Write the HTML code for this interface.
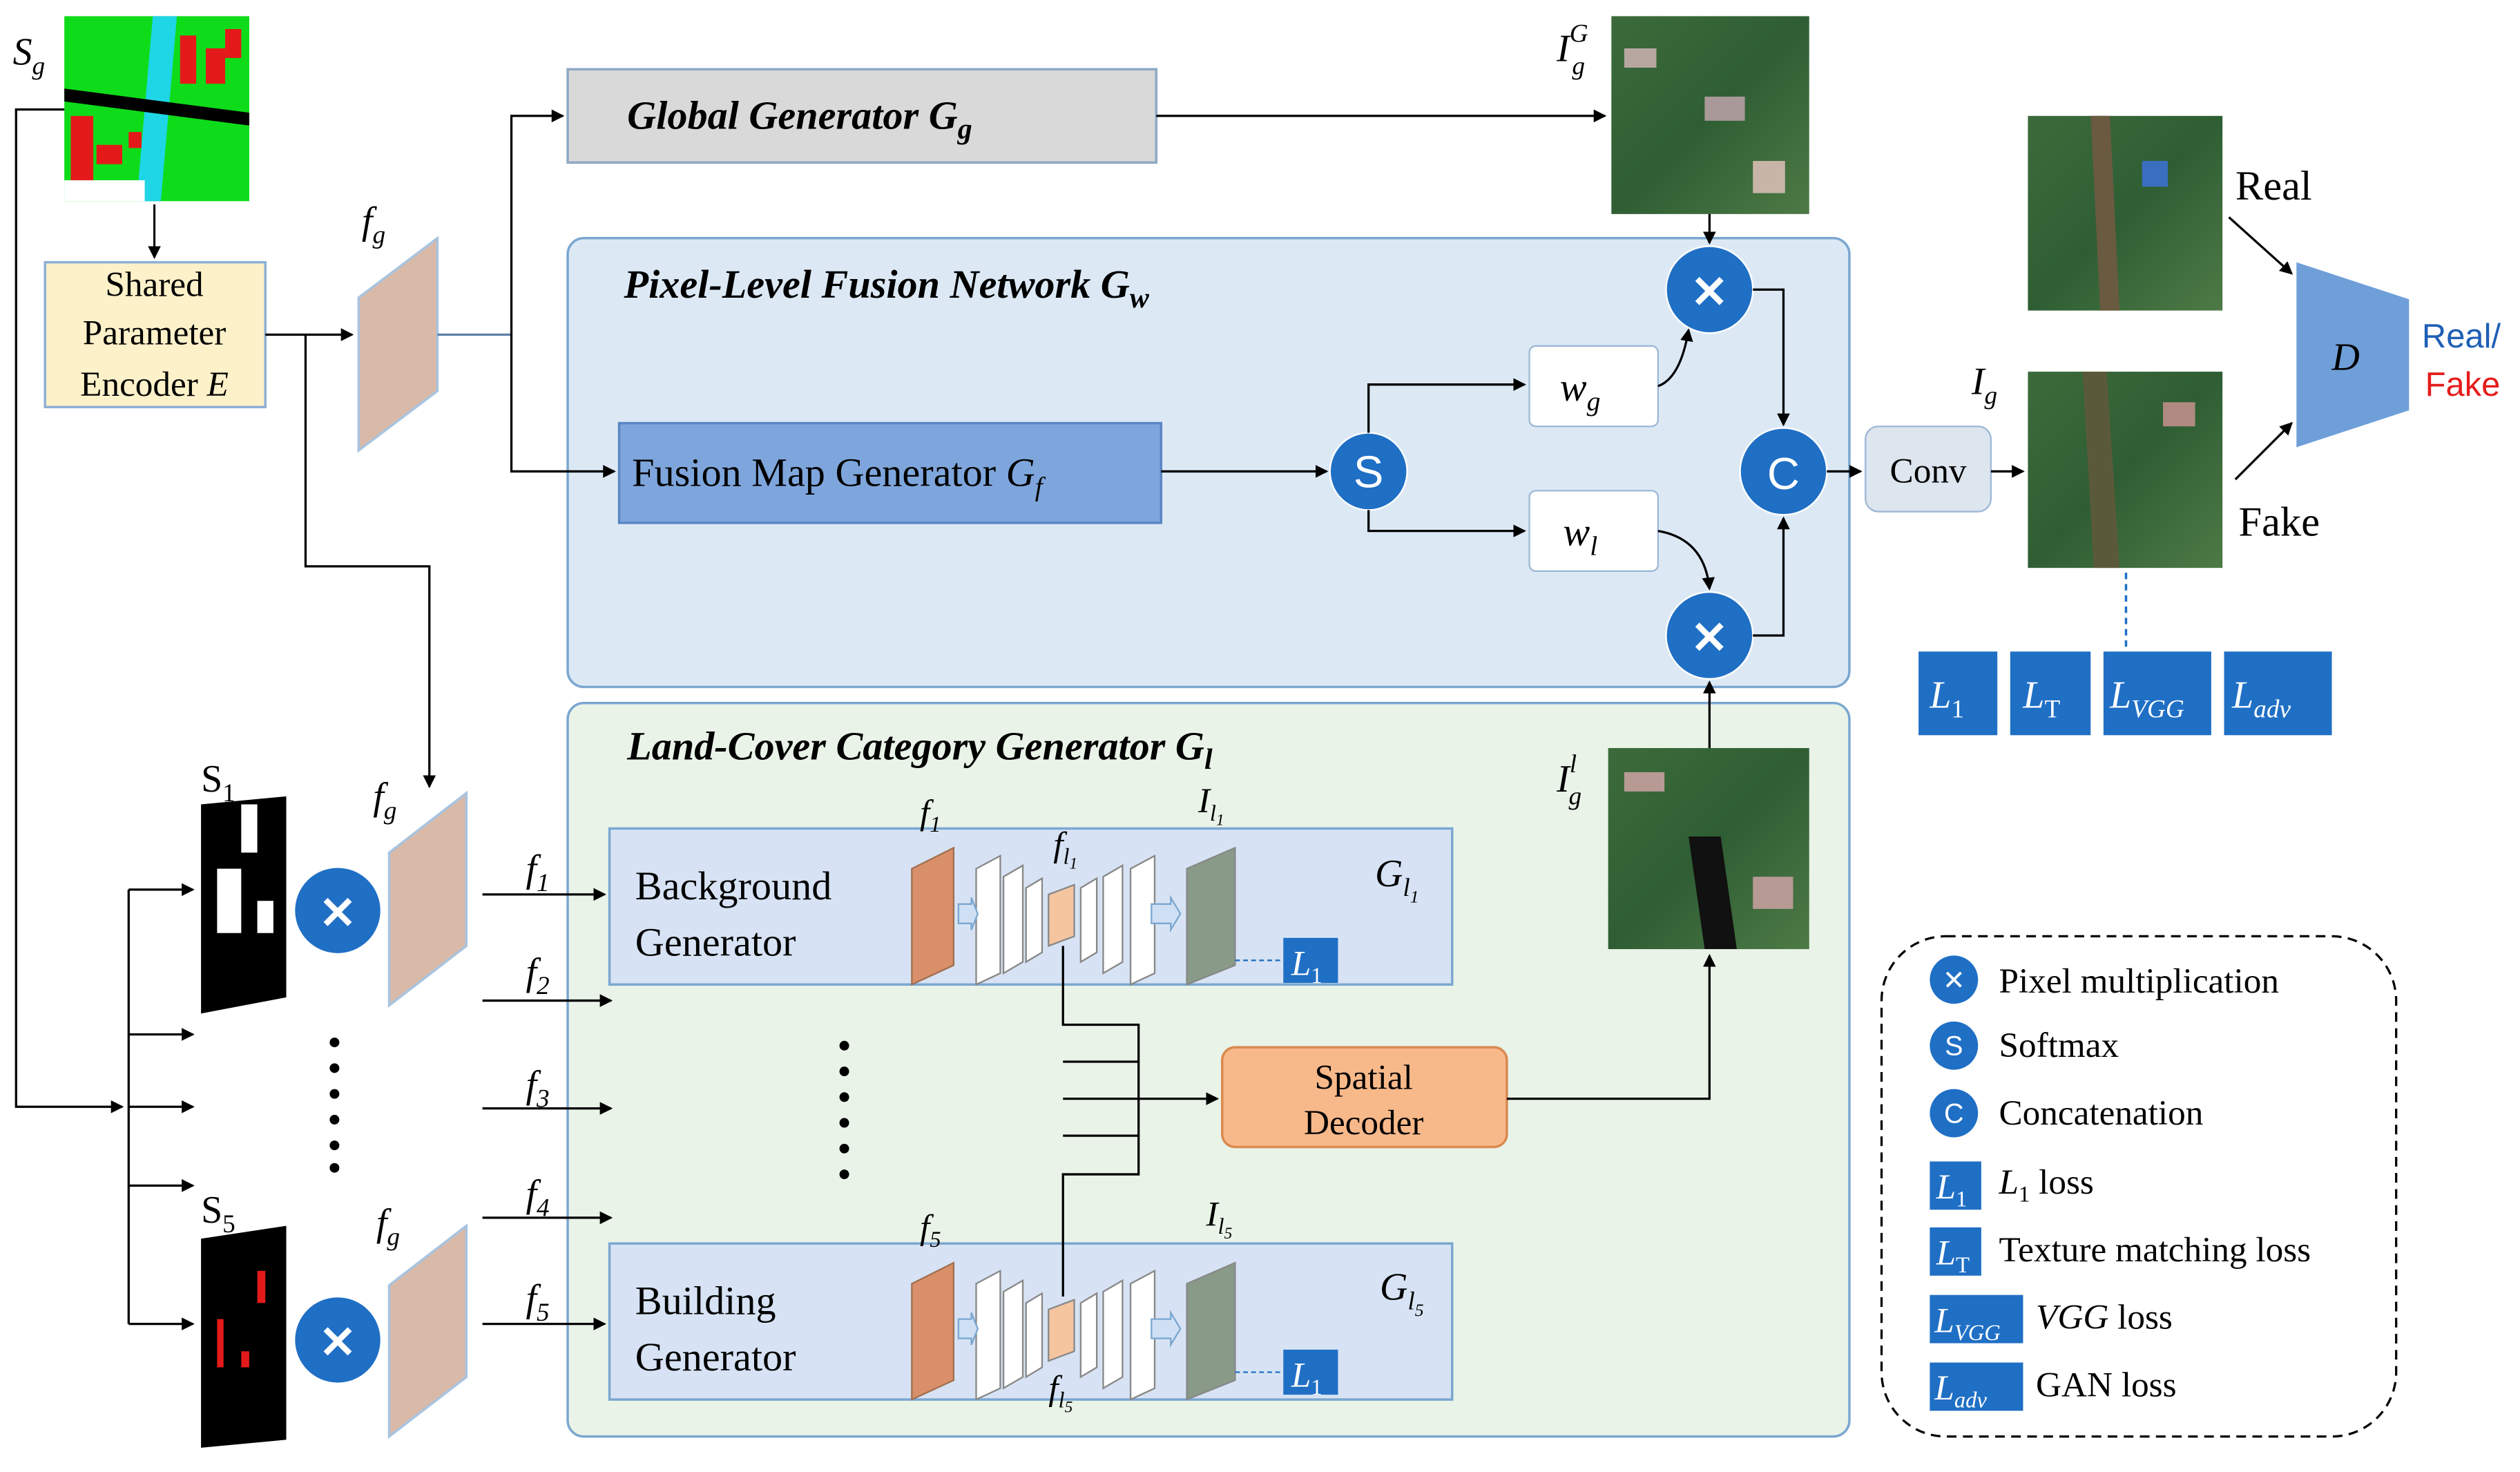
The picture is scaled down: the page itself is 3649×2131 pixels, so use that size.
<!DOCTYPE html>
<html><head><meta charset="utf-8"><style>
html,body{margin:0;padding:0;background:#fff;}
svg{display:block;}
text{font-family:"Liberation Serif",serif;}
.s{font-family:"Liberation Sans",sans-serif;}
</style></head><body>
<svg width="3649" height="2131" viewBox="0 0 1567 915" xmlns="http://www.w3.org/2000/svg">
<defs>
<marker id="a" markerWidth="8" markerHeight="8" refX="7" refY="4" orient="auto" markerUnits="userSpaceOnUse"><path d="M0,0 L8,4 L0,8 z" fill="#000"/></marker>
<linearGradient id="sat" x1="0" y1="0" x2="1" y2="1"><stop offset="0" stop-color="#3c6b3a"/><stop offset="0.5" stop-color="#2f5e34"/><stop offset="1" stop-color="#4d7a45"/></linearGradient>
</defs>
<!-- panels -->
<rect x="353" y="148" width="797" height="279" rx="10" fill="#dce9f5" stroke="#7ba7d0" stroke-width="1.5"/>
<rect x="353" y="437" width="797" height="456" rx="10" fill="#e9f3e8" stroke="#7ba7d0" stroke-width="1.5"/>
<text x="388" y="185" font-size="25" font-style="italic" font-weight="bold">Pixel-Level Fusion Network  G<tspan font-size="18" dy="6">w</tspan></text>
<text x="390" y="472" font-size="25" font-style="italic" font-weight="bold">Land-Cover Category Generator G<tspan font-size="18" dy="6">l</tspan></text>

<!-- Sg map -->
<rect x="40" y="10" width="115" height="115" fill="#0edc1a"/>
<polygon points="95,10 110,10 100,125 85,125" fill="#1fd6e6"/>
<polygon points="40,55 155,70 155,78 40,63" fill="#000"/>
<rect x="112" y="22" width="10" height="30" fill="#e41a1a"/><rect x="128" y="30" width="12" height="22" fill="#e41a1a"/><rect x="140" y="18" width="10" height="18" fill="#e41a1a"/>
<rect x="44" y="72" width="14" height="45" fill="#e41a1a"/><rect x="60" y="90" width="16" height="12" fill="#e41a1a"/><rect x="80" y="82" width="8" height="10" fill="#e41a1a"/>
<rect x="40" y="112" width="50" height="13" fill="#fff"/>
<text x="8" y="40" font-size="24" font-style="italic">S<tspan font-size="16" dy="6">g</tspan></text>

<!-- encoder -->
<rect x="28" y="163" width="137" height="90" fill="#fdf1c9" stroke="#8eb0d4" stroke-width="1.5"/>
<text x="96" y="184" font-size="22" text-anchor="middle">Shared</text>
<text x="96" y="214" font-size="22" text-anchor="middle">Parameter</text>
<text x="96" y="246" font-size="22" text-anchor="middle">Encoder <tspan font-style="italic">E</tspan></text>
<line x1="96" y1="127" x2="96" y2="160" stroke="#000" stroke-width="1.3" marker-end="url(#a)"/>

<!-- fg slabs -->
<g fill="#d9b9a8" stroke="#a8c4e0" stroke-width="1.5">
<polygon points="223,185 272,148 272,243 223,280"/>
<polygon points="242,530 290,493 290,588 242,625"/>
<polygon points="242,799 290,762 290,856 242,893"/>
</g>
<text x="225" y="145" font-size="24" font-style="italic">f<tspan font-size="16" dy="6">g</tspan></text>
<text x="232" y="503" font-size="24" font-style="italic">f<tspan font-size="16" dy="6">g</tspan></text>
<text x="234" y="768" font-size="24" font-style="italic">f<tspan font-size="16" dy="6">g</tspan></text>

<!-- global generator -->
<rect x="353" y="43" width="366" height="58" fill="#d9d9d9" stroke="#8da9c4" stroke-width="1.5"/>
<text x="390" y="80" font-size="25" font-style="italic" font-weight="bold">Global Generator G<tspan font-size="18" dy="6">g</tspan></text>

<!-- satellite images -->
<rect x="1002" y="10" width="123" height="123" fill="url(#sat)"/>
<rect x="1010" y="30" width="20" height="12" fill="#b8a7a0"/><rect x="1060" y="60" width="25" height="15" fill="#a99" /><rect x="1090" y="100" width="20" height="20" fill="#c9b5a8"/>
<text x="968" y="38" font-size="24" font-style="italic">I<tspan font-size="16" dy="-12">G</tspan><tspan font-size="16" dx="-10" dy="20">g</tspan></text>
<rect x="1261" y="72" width="121" height="121" fill="url(#sat)"/>
<polygon points="1300,72 1312,72 1318,193 1306,193" fill="#6a5a40"/><rect x="1332" y="100" width="16" height="16" fill="#3a6fc0"/>
<rect x="1261" y="231" width="121" height="122" fill="url(#sat)"/>
<polygon points="1295,231 1310,231 1318,353 1302,353" fill="#5a5a3a"/><rect x="1345" y="250" width="20" height="15" fill="#b08a80"/>
<rect x="1000" y="465" width="125" height="125" fill="url(#sat)"/>
<polygon points="1050,520 1070,520 1080,590 1060,590" fill="#111"/><rect x="1010" y="480" width="25" height="12" fill="#b89a95"/><rect x="1090" y="545" width="25" height="20" fill="#b89a95"/>
<text x="968" y="492" font-size="24" font-style="italic">I<tspan font-size="16" dy="-12">l</tspan><tspan font-size="16" dx="-5" dy="20">g</tspan></text>
<text x="1390" y="124" font-size="26">Real</text>
<text x="1392" y="333" font-size="26">Fake</text>
<text x="1226" y="245" font-size="24" font-style="italic">I<tspan font-size="16" dy="6">g</tspan></text>

<!-- fusion map gen -->
<rect x="385" y="263" width="337" height="62" fill="#7ea6dc" stroke="#5b86c4" stroke-width="1.5"/>
<text x="393" y="302" font-size="25">Fusion Map Generator  <tspan font-style="italic">G</tspan><tspan font-size="17" font-style="italic" dy="6">f</tspan></text>
<rect x="951" y="215" width="80" height="50" rx="4" fill="#fff" stroke="#9db8d6"/>
<rect x="951" y="305" width="80" height="50" rx="4" fill="#fff" stroke="#9db8d6"/>
<text x="970" y="249" font-size="25" font-style="italic">w<tspan font-size="17" dy="6">g</tspan></text>
<text x="972" y="339" font-size="25" font-style="italic">w<tspan font-size="17" dy="6">l</tspan></text>
<rect x="1160" y="265" width="78" height="53" rx="8" fill="#dde5ee" stroke="#9db8d6"/>
<text x="1199" y="300" font-size="22" text-anchor="middle">Conv</text>

<!-- D -->
<polygon points="1428,163 1498,186 1498,255 1428,278" fill="#6f9fd8"/>
<text x="1450" y="230" font-size="24" font-style="italic">D</text>
<text x="1506" y="216" font-size="21" class="s" fill="#1f5fb5">Real/</text>
<text x="1508" y="246" font-size="21" class="s" fill="#e51c1c">Fake</text>

<!-- loss boxes -->
<g fill="#1f6fc5"><rect x="1193" y="405" width="49" height="52"/><rect x="1250" y="405" width="50" height="52"/><rect x="1308" y="405" width="67" height="52"/><rect x="1383" y="405" width="67" height="52"/></g>
<g fill="#fff" font-size="24" font-style="italic">
<text x="1200" y="440">L<tspan font-size="16" font-style="normal" dy="6">1</tspan></text>
<text x="1258" y="440">L<tspan font-size="16" font-style="normal" dy="6">T</tspan></text>
<text x="1312" y="440">L<tspan font-size="16" dy="6">VGG</tspan></text>
<text x="1388" y="440">L<tspan font-size="16" dy="6">adv</tspan></text>
</g>
<line x1="1322" y1="356" x2="1322" y2="402" stroke="#1f6fc5" stroke-width="1.5" stroke-dasharray="4,3"/>

<!-- circles -->
<g fill="#1f6fc5" stroke="#fff" stroke-width="1">
<circle cx="851" cy="293" r="24"/><circle cx="1063" cy="180" r="27"/><circle cx="1063" cy="395" r="27"/><circle cx="1109" cy="293" r="27"/>
<circle cx="210" cy="566" r="27"/><circle cx="210" cy="833" r="27"/>
</g>
<g fill="#fff" font-size="28" class="s" text-anchor="middle" font-family="Liberation Sans">
<text x="851" y="303" class="s">S</text><text x="1109" y="304" class="s">C</text>
<text x="1063" y="191" class="s" font-weight="bold">✕</text><text x="1063" y="406" class="s" font-weight="bold">✕</text>
<text x="210" y="577" class="s" font-weight="bold">✕</text><text x="210" y="844" class="s" font-weight="bold">✕</text>
</g>

<!-- S1, S5 -->
<polygon points="125,500 178,495 178,620 125,630" fill="#000"/>
<rect x="150" y="500" width="10" height="30" fill="#fff"/><rect x="135" y="540" width="15" height="40" fill="#fff"/><rect x="160" y="560" width="10" height="20" fill="#fff"/>
<polygon points="125,770 178,762 178,895 125,900" fill="#000"/>
<rect x="160" y="790" width="5" height="20" fill="#e41a1a"/><rect x="135" y="820" width="4" height="30" fill="#e41a1a"/><rect x="150" y="840" width="5" height="10" fill="#e41a1a"/>
<text x="125" y="492" font-size="24">S<tspan font-size="16" dy="6">1</tspan></text>
<text x="125" y="760" font-size="24">S<tspan font-size="16" dy="6">5</tspan></text>

<!-- generator boxes -->
<rect x="379" y="515" width="524" height="97" fill="#d7e3f4" stroke="#7ba7d0" stroke-width="1.5"/>
<rect x="379" y="773" width="524" height="97" fill="#d7e3f4" stroke="#7ba7d0" stroke-width="1.5"/>
<text x="395" y="559" font-size="25">Background</text><text x="395" y="594" font-size="25">Generator</text>
<text x="395" y="817" font-size="25">Building</text><text x="395" y="852" font-size="25">Generator</text>
<text x="855" y="551" font-size="24" font-style="italic">G<tspan font-size="16" dy="6">l</tspan><tspan font-size="11" dy="4">1</tspan></text>
<text x="858" y="808" font-size="24" font-style="italic">G<tspan font-size="16" dy="6">l</tspan><tspan font-size="11" dy="4">5</tspan></text>
<g id="net">
<polygon points="567,540 593,527 593,600 567,612" fill="#d98f6a" stroke="#a07050"/>
<polygon points="607,540 622,532 622,605 607,612" fill="#fff" stroke="#888"/>
<polygon points="624,545 636,538 636,598 624,605" fill="#fff" stroke="#888"/>
<polygon points="638,552 648,546 648,592 638,598" fill="#fff" stroke="#888"/>
<polygon points="652,556 668,550 668,582 652,588" fill="#f5c5a0" stroke="#888"/>
<polygon points="672,552 682,546 682,592 672,598" fill="#fff" stroke="#888"/>
<polygon points="686,545 698,538 698,598 686,605" fill="#fff" stroke="#888"/>
<polygon points="703,540 718,532 718,605 703,612" fill="#fff" stroke="#888"/>
<polygon points="738,540 768,527 768,600 738,612" fill="#8a9a88" stroke="#888"/>
<polygon points="596,562 604,562 604,558 608,568 604,578 604,574 596,574" fill="#cfe0f5" stroke="#7ba7d0"/>
<polygon points="716,562 728,562 728,558 734,568 728,578 728,574 716,574" fill="#cfe0f5" stroke="#7ba7d0"/>
</g>
<use href="#net" transform="translate(0,258)"/>
<rect x="798" y="583" width="34" height="28" fill="#1f6fc5"/><text x="803" y="606" font-size="22" font-style="italic" fill="#fff">L<tspan font-size="14" font-style="normal" dy="5">1</tspan></text>
<rect x="798" y="839" width="34" height="28" fill="#1f6fc5"/><text x="803" y="862" font-size="22" font-style="italic" fill="#fff">L<tspan font-size="14" font-style="normal" dy="5">1</tspan></text>
<line x1="768" y1="597" x2="798" y2="597" stroke="#1f6fc5" stroke-dasharray="3,2"/>
<line x1="768" y1="853" x2="798" y2="853" stroke="#1f6fc5" stroke-dasharray="3,2"/>
<g font-size="22" font-style="italic">
<text x="572" y="512">f<tspan font-size="14" dy="5">1</tspan></text>
<text x="655" y="532">f<tspan font-size="14" dy="5">l</tspan><tspan font-size="10" dy="3">1</tspan></text>
<text x="745" y="505">I<tspan font-size="14" dy="5">l</tspan><tspan font-size="10" dy="3">1</tspan></text>
<text x="572" y="770">f<tspan font-size="14" dy="5">5</tspan></text>
<text x="652" y="870">f<tspan font-size="14" dy="5">l</tspan><tspan font-size="10" dy="3">5</tspan></text>
<text x="750" y="762">I<tspan font-size="14" dy="5">l</tspan><tspan font-size="10" dy="3">5</tspan></text>
</g>

<!-- spatial decoder -->
<rect x="760" y="651" width="177" height="62" rx="8" fill="#f8b98a" stroke="#d98a50" stroke-width="1.5"/>
<text x="848" y="677" font-size="22" text-anchor="middle">Spatial</text>
<text x="848" y="705" font-size="22" text-anchor="middle">Decoder</text>

<!-- dots -->
<g fill="#000"><circle cx="208" cy="648" r="3"/><circle cx="208" cy="664" r="3"/><circle cx="208" cy="680" r="3"/><circle cx="208" cy="696" r="3"/><circle cx="208" cy="712" r="3"/><circle cx="208" cy="726" r="3"/>
<circle cx="525" cy="650" r="3"/><circle cx="525" cy="666" r="3"/><circle cx="525" cy="682" r="3"/><circle cx="525" cy="698" r="3"/><circle cx="525" cy="714" r="3"/><circle cx="525" cy="730" r="3"/></g>

<!-- f labels -->
<g font-size="24" font-style="italic">
<text x="327" y="548">f<tspan font-size="16" dy="6">1</tspan></text>
<text x="327" y="612">f<tspan font-size="16" dy="6">2</tspan></text>
<text x="327" y="682">f<tspan font-size="16" dy="6">3</tspan></text>
<text x="327" y="750">f<tspan font-size="16" dy="6">4</tspan></text>
<text x="327" y="815">f<tspan font-size="16" dy="6">5</tspan></text>
</g>

<!-- connectors -->
<g stroke="#000" stroke-width="1.4" fill="none">
<polyline points="40,68 10,68 10,688 76,688" marker-end="url(#a)"/>
<line x1="80" y1="553" x2="80" y2="823"/>
<line x1="80" y1="553" x2="120" y2="553" marker-end="url(#a)"/>
<line x1="80" y1="643" x2="120" y2="643" marker-end="url(#a)"/>
<line x1="80" y1="688" x2="120" y2="688" marker-end="url(#a)"/>
<line x1="80" y1="737" x2="120" y2="737" marker-end="url(#a)"/>
<line x1="80" y1="823" x2="120" y2="823" marker-end="url(#a)"/>
<line x1="165" y1="208" x2="219" y2="208" marker-end="url(#a)"/>
<polyline points="190,208 190,352 267,352 267,489" marker-end="url(#a)"/>
<line x1="272" y1="208" x2="318" y2="208" stroke="#5b7fa8"/>
<polyline points="318,208 318,72 350,72" marker-end="url(#a)"/>
<polyline points="318,208 318,293 382,293" marker-end="url(#a)"/>
<line x1="719" y1="72" x2="998" y2="72" marker-end="url(#a)"/>
<line x1="1063" y1="133" x2="1063" y2="151" marker-end="url(#a)"/>
<line x1="722" y1="293" x2="825" y2="293" marker-end="url(#a)"/>
<polyline points="851,269 851,239 948,239" marker-end="url(#a)"/>
<polyline points="851,317 851,330 948,330" marker-end="url(#a)"/>
<path d="M1031,240 Q1045,235 1050,205" marker-end="url(#a)"/>
<path d="M1031,330 Q1060,335 1063,366" marker-end="url(#a)"/>
<polyline points="1090,180 1109,180 1109,264" marker-end="url(#a)"/>
<polyline points="1090,395 1109,395 1109,322" marker-end="url(#a)"/>
<line x1="1136" y1="293" x2="1157" y2="293" marker-end="url(#a)"/>
<line x1="1238" y1="293" x2="1258" y2="293" marker-end="url(#a)"/>
<line x1="1063" y1="465" x2="1063" y2="424" marker-end="url(#a)"/>
<polyline points="937,683 1063,683 1063,594" marker-end="url(#a)"/>
<line x1="1386" y1="135" x2="1425" y2="170" marker-end="url(#a)"/>
<line x1="1390" y1="298" x2="1425" y2="263" marker-end="url(#a)"/>
<line x1="300" y1="556" x2="376" y2="556" marker-end="url(#a)"/>
<line x1="300" y1="622" x2="380" y2="622" marker-end="url(#a)"/>
<line x1="300" y1="689" x2="380" y2="689" marker-end="url(#a)"/>
<line x1="300" y1="757" x2="380" y2="757" marker-end="url(#a)"/>
<line x1="300" y1="823" x2="376" y2="823" marker-end="url(#a)"/>
<polyline points="661,588 661,637 708,637 708,730 661,730 661,806"/>
<line x1="661" y1="660" x2="708" y2="660"/>
<line x1="661" y1="683" x2="708" y2="683"/>
<line x1="661" y1="706" x2="708" y2="706"/>
<line x1="708" y1="683" x2="757" y2="683" marker-end="url(#a)"/>
</g>

<!-- legend -->
<rect x="1170" y="582" width="320" height="311" rx="40" fill="none" stroke="#000" stroke-width="1.4" stroke-dasharray="6,4"/>
<g fill="#1f6fc5"><circle cx="1215" cy="609" r="15"/><circle cx="1215" cy="650" r="15"/><circle cx="1215" cy="692" r="15"/>
<rect x="1200" y="722" width="32" height="30"/><rect x="1200" y="763" width="32" height="30"/><rect x="1200" y="805" width="58" height="30"/><rect x="1200" y="847" width="58" height="30"/></g>
<g fill="#fff" font-family="Liberation Sans" text-anchor="middle" font-size="17">
<text x="1215" y="615" class="s">✕</text><text x="1215" y="656" class="s">S</text><text x="1215" y="698" class="s">C</text></g>
<g fill="#fff" font-size="22" font-style="italic">
<text x="1204" y="745">L<tspan font-size="14" font-style="normal" dy="5">1</tspan></text>
<text x="1204" y="786">L<tspan font-size="14" font-style="normal" dy="5">T</tspan></text>
<text x="1203" y="828">L<tspan font-size="14" dy="5">VGG</tspan></text>
<text x="1203" y="870">L<tspan font-size="14" dy="5">adv</tspan></text>
</g>
<g font-size="22">
<text x="1243" y="617">Pixel multiplication</text>
<text x="1243" y="657">Softmax</text>
<text x="1243" y="699">Concatenation</text>
<text x="1243" y="742"><tspan font-style="italic">L</tspan><tspan font-size="14" dy="5">1</tspan><tspan dy="-5"> loss</tspan></text>
<text x="1243" y="784">Texture matching loss</text>
<text x="1266" y="826"><tspan font-style="italic">VGG</tspan> loss</text>
<text x="1266" y="868">GAN loss</text>
</g>
</svg>
</body></html>
